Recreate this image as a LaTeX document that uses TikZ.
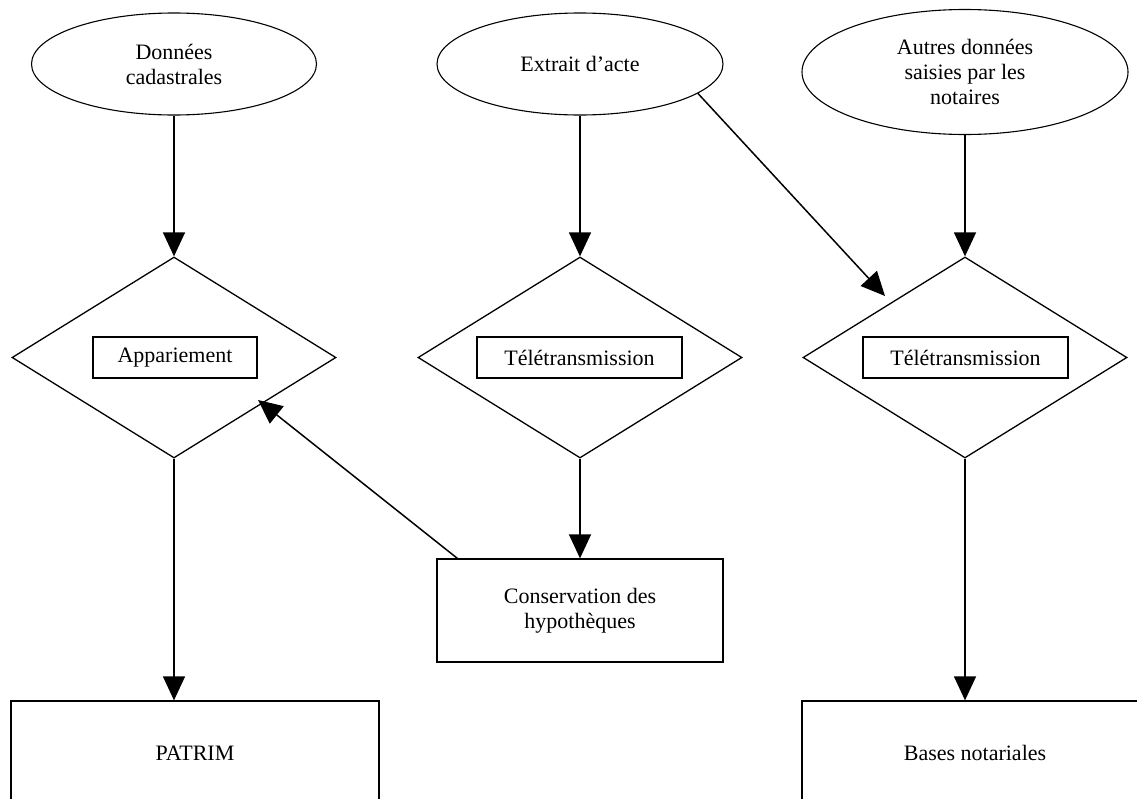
\documentclass[tikz,border=0pt]{standalone}
\usepackage{fontspec}
\setmainfont{Liberation Serif}
\usetikzlibrary{shapes.geometric,arrows.meta}
\begin{document}
\begin{tikzpicture}[x=1pt,y=-1pt,
  every node/.style={font=\fontsize{22}{25}\selectfont, inner sep=0pt, align=center},
  ell/.style={draw, ellipse, line width=1.1pt},
  dia/.style={draw, diamond, line width=1.3pt, minimum width=324pt, minimum height=201pt},
  lbl/.style={draw, rectangle, line width=1.3pt, minimum height=41pt},
  box/.style={draw, rectangle, line width=1.3pt},
  arr/.style={line width=1.5pt, -{Triangle[length=24pt,width=22pt]}}]
\clip (0,0) rectangle (1137,798);
\fill[white] (0,0) rectangle (1137,798);
% ellipses
\node[ell, minimum width=285pt, minimum height=102pt] (e1) at (174,64) {Données\\cadastrales};
\node[ell, minimum width=286pt, minimum height=102pt] (e2) at (580,64) {Extrait d’acte};
\node[ell, minimum width=326pt, minimum height=125pt] (e3) at (965,72) {Autres données\\saisies par les\\notaires};
% diamonds
\node[dia] (d1) at (174,357.5) {};
\node[dia] (d2) at (580,357.5) {};
\node[dia] (d3) at (965,357.5) {};
\node[lbl, minimum width=164pt] (r1) at (175,357.5) {Appariement};
\node[lbl, minimum width=205pt] (r2) at (579.5,357.5) {Télétransmission};
\node[lbl, minimum width=205pt] (r3) at (965.5,357.5) {Télétransmission};
% boxes
\node[box, minimum width=286pt, minimum height=103pt] (cons) at (580,610.5) {Conservation des\\hypothèques};
\node[box, minimum width=368pt, minimum height=104pt] (patrim) at (195,753) {PATRIM};
\node[box, minimum width=346pt, minimum height=104pt] (bases) at (975,753) {Bases notariales};
% free ends
\coordinate (t3) at (885,296);
\coordinate (t1) at (258,400);
% arrows
\draw[arr] (e1) -- (d1);
\draw[arr] (e2) -- (d2);
\draw[arr] (e3) -- (d3);
\draw[arr] (e2.-14) -- (t3);
\draw[arr] (d2) -- (cons);
\draw[arr] (d1.south) -- (d1.south |- patrim.north);
\draw[arr] (d3.south) -- (d3.south |- bases.north);
\draw[arr] ([xshift=21pt]cons.north west) -- (t1);
\end{tikzpicture}
\end{document}
